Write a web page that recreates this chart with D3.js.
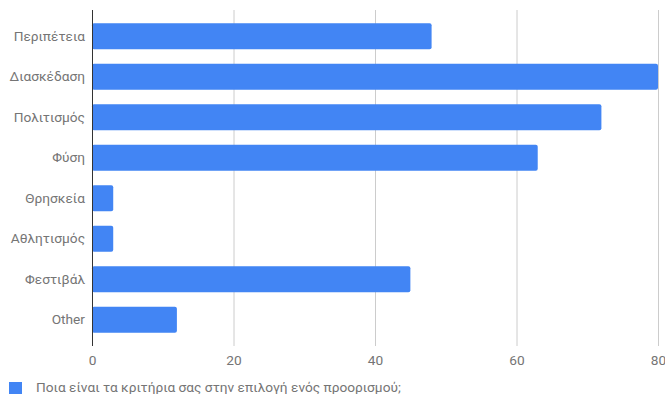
<!DOCTYPE html>
<html>
<head>
<meta charset="utf-8">
<script src="https://cdn.jsdelivr.net/npm/d3@7"></script>
<style>
  html, body { margin: 0; padding: 0; background: #fff; overflow: hidden; }
  svg { display: block; font-family: Roboto, "Noto Sans", sans-serif; }
</style>
</head>
<body>
<svg id="chart" width="665" height="394"></svg>
<script>
// Answers to the travel-criteria question
const categories = ["Περιπέτεια", "Διασκέδαση", "Πολιτισμός", "Φύση", "Θρησκεία", "Αθλητισμός", "Φεστιβάλ", "Other"];
const counts = [48, 80, 72, 63, 3, 3, 45, 12];
const xTicks = [0, 20, 40, 60, 80];
const seriesName = "Ποια είναι τα κριτήρια σας στην επιλογή ενός προορισμού;";

const barColor = "#4285f4";
const textColor = "#757575";
const fontSize = "13.7px";

const svg = d3.select("#chart");
const plotLeft = 92, plotRight = 658, plotTop = 10, plotBottom = 346;

const x = d3.scaleLinear().domain([0, 80]).range([plotLeft, plotRight]);
const y = d3.scaleBand().domain(categories).range([plotTop, plotBottom])
  .paddingInner(0.36).paddingOuter(0.33);

// vertical gridlines
svg.append("g")
  .selectAll("line")
  .data(xTicks.filter(d => d !== 0))
  .join("line")
  .attr("x1", d => x(d) + 0.5).attr("x2", d => x(d) + 0.5)
  .attr("y1", plotTop).attr("y2", plotBottom)
  .attr("stroke", "#cccccc").attr("stroke-width", 1);

// bars
svg.append("g")
  .selectAll("rect")
  .data(categories.map((c, i) => ({ c, v: counts[i] })))
  .join("rect")
  .attr("x", x(0))
  .attr("y", d => y(d.c))
  .attr("width", d => x(d.v) - x(0))
  .attr("height", y.bandwidth())
  .attr("rx", 2).attr("ry", 2)
  .attr("fill", barColor);

// baseline
svg.append("line")
  .attr("x1", x(0) + 0.5).attr("x2", x(0) + 0.5)
  .attr("y1", plotTop).attr("y2", plotBottom)
  .attr("stroke", "#333333").attr("stroke-width", 1);

// category labels
const yAxis = d3.axisLeft(y).tickSize(0).tickPadding(7);
const gy = svg.append("g").attr("transform", `translate(${plotLeft},0)`).call(yAxis);
gy.select(".domain").remove();
gy.selectAll("text")
  .attr("fill", textColor)
  .style("font-size", fontSize)
  .style("font-family", "Roboto, sans-serif");

// value axis labels
const xAxis = d3.axisBottom(x).tickValues(xTicks).tickSize(0).tickPadding(9).tickFormat(d3.format("d"));
const gx = svg.append("g").attr("transform", `translate(0,${plotBottom})`).call(xAxis);
gx.select(".domain").remove();
gx.selectAll("text")
  .attr("fill", textColor)
  .style("font-size", fontSize)
  .style("font-family", "Roboto, sans-serif");

// legend
const legend = svg.append("g").attr("transform", "translate(9,382)");
legend.append("rect")
  .attr("width", 13).attr("height", 13)
  .attr("fill", barColor);
legend.append("text")
  .attr("x", 27).attr("y", 10)
  .attr("fill", textColor)
  .style("font-size", fontSize)
  .text(seriesName);
</script>
</body>
</html>
